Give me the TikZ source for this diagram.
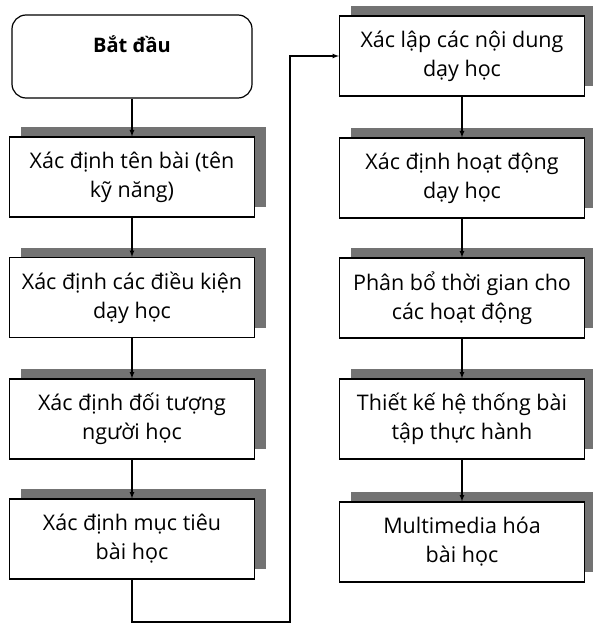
\documentclass[tikz,border=0pt]{standalone}
\usepackage{fontspec}
\setmainfont{Open Sans}
\usetikzlibrary{positioning,shadows,arrows}

\begin{document}
\begin{tikzpicture}[x=1pt,y=1pt]
\tikzstyle{stepbox}=[rectangle, draw=black, line width=1.2pt, fill=white, minimum width=245pt, minimum height=80pt, align=center, font=\fontsize{21.5}{29}\selectfont, drop shadow={shadow xshift=11pt, shadow yshift=10pt, fill=black!55, opacity=1}]
\tikzstyle{startbox}=[rectangle, rounded corners=14pt, draw=black, line width=1.2pt, fill=white, minimum width=240pt, minimum height=83pt, font=\fontsize{20}{28}\selectfont\bfseries, text height=14pt, text depth=22pt]
\tikzstyle{connect}=[-latex, line width=1.2pt]

\useasboundingbox (0,0) rectangle (592,-628);

% left column
\node[startbox] (start) at (132,-56.5) {Bắt đầu};
\node[stepbox] (name) at (132,-177) {Xác định tên bài (tên\\kỹ năng)};
\node[stepbox] (cond) at (132,-297.5) {Xác định các điều kiện\\dạy học};
\node[stepbox] (learner) at (132,-419) {Xác định đối tượng\\người học};
\node[stepbox] (goal) at (132,-539) {Xác định mục tiêu\\bài học};

% right column
\node[stepbox] (content) at (462,-56) {Xác lập các nội dung\\dạy học};
\node[stepbox] (activity) at (462,-178) {Xác định hoạt động\\dạy học};
\node[stepbox] (timing) at (462,-298) {Phân bổ thời gian cho\\các hoạt động};
\node[stepbox] (exercise) at (462,-419) {Thiết kế hệ thống bài\\tập thực hành};
\node[stepbox] (media) at (462,-542) {Multimedia hóa\\bài học};

\coordinate (loop) at (290,-622);

\path[connect]
	(start) edge (name)
	(name) edge (cond)
	(cond) edge (learner)
	(learner) edge (goal)
	(content) edge (activity)
	(activity) edge (timing)
	(timing) edge (exercise)
	(exercise) edge (media);

\draw[connect] (goal.south) |- (loop) |- (content.west);

\end{tikzpicture}
\end{document}
